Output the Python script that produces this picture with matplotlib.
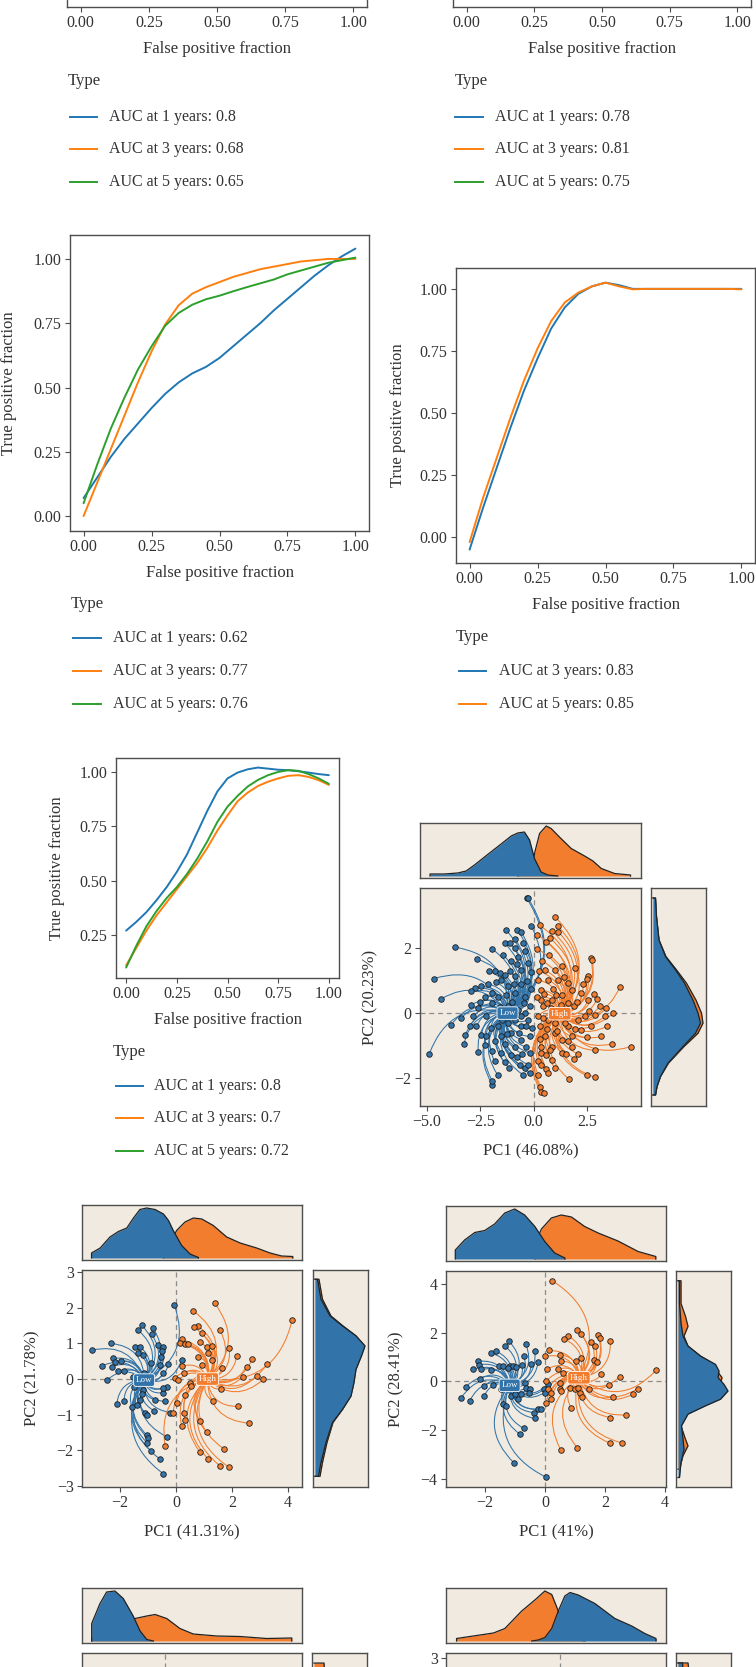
import numpy as np
import matplotlib
matplotlib.use("Agg")
import matplotlib.pyplot as plt
from matplotlib.lines import Line2D
from matplotlib.patches import FancyArrowPatch

plt.rcParams['font.family'] = ['Liberation Serif', 'DejaVu Serif']

# ---------------------------------------------------------------- data
roc_fpr = [0.0, 0.05, 0.1, 0.15, 0.2, 0.25, 0.3, 0.35, 0.4, 0.45, 0.5,
           0.55, 0.6, 0.65, 0.7, 0.75, 0.8, 0.85, 0.9, 0.95, 1.0]
roc_ticks = [0.0, 0.25, 0.5, 0.75, 1.0]
roc_ticklabels = ['0.00', '0.25', '0.50', '0.75', '1.00']

# panel C (middle left)
c_tpr_1y = [0.07, 0.15, 0.23, 0.30, 0.36, 0.42, 0.475, 0.52, 0.555, 0.58, 0.615,
            0.66, 0.705, 0.75, 0.80, 0.845, 0.89, 0.935, 0.975, 1.01, 1.04]
c_tpr_3y = [0.0, 0.13, 0.26, 0.39, 0.52, 0.64, 0.745, 0.82, 0.865, 0.89, 0.91,
            0.93, 0.945, 0.96, 0.97, 0.98, 0.99, 0.995, 1.0, 1.0, 1.0]
c_tpr_5y = [0.05, 0.20, 0.34, 0.46, 0.57, 0.66, 0.74, 0.79, 0.822, 0.843, 0.857,
            0.874, 0.89, 0.905, 0.92, 0.94, 0.955, 0.97, 0.985, 0.995, 1.005]
# panel D (middle right)
d_tpr_3y = [-0.05, 0.12, 0.28, 0.44, 0.59, 0.72, 0.84, 0.925, 0.98, 1.01, 1.025,
            1.015, 1.0, 1.0, 1.0, 1.0, 1.0, 1.0, 1.0, 1.0, 1.0]
d_tpr_5y = [-0.02, 0.16, 0.32, 0.48, 0.63, 0.76, 0.87, 0.945, 0.985, 1.01, 1.025,
            1.01, 0.998, 1.0, 1.0, 1.0, 1.0, 1.0, 1.0, 1.0, 0.998]
# panel E (lower left)
e_tpr_1y = [0.27, 0.31, 0.355, 0.41, 0.47, 0.54, 0.62, 0.72, 0.82, 0.91, 0.97,
            0.997, 1.012, 1.02, 1.015, 1.01, 1.008, 1.003, 0.997, 0.99, 0.985]
e_tpr_3y = [0.11, 0.19, 0.27, 0.34, 0.40, 0.46, 0.52, 0.58, 0.65, 0.73, 0.80,
            0.865, 0.905, 0.935, 0.955, 0.97, 0.982, 0.985, 0.977, 0.962, 0.94]
e_tpr_5y = [0.10, 0.20, 0.29, 0.36, 0.42, 0.47, 0.53, 0.60, 0.68, 0.77, 0.84,
            0.89, 0.933, 0.963, 0.985, 1.0, 1.008, 1.005, 0.99, 0.97, 0.945]

a_labels = ['AUC at 1 years: 0.8', 'AUC at 3 years: 0.68', 'AUC at 5 years: 0.65']
b_labels = ['AUC at 1 years: 0.78', 'AUC at 3 years: 0.81', 'AUC at 5 years: 0.75']
c_labels = ['AUC at 1 years: 0.62', 'AUC at 3 years: 0.77', 'AUC at 5 years: 0.76']
d_labels = ['AUC at 3 years: 0.83', 'AUC at 5 years: 0.85']
e_labels = ['AUC at 1 years: 0.8', 'AUC at 3 years: 0.7', 'AUC at 5 years: 0.72']

# PCA panel F (46.08%)
f_low = [(-0.34, 3.54), (-0.27, 3.54), (-1.31, 2.56), (-3.7, 2.03), (-2.64, 1.66), (-1.98, 1.98),
         (-4.69, 1.06), (-4.33, 0.44), (-4.89, -1.25), (-3.89, -0.38), (-3.27, -0.96), (-3.2, -0.67),
         (-1.95, -2.2), (-1.95, -2.08), (-1.7, -1.9), (-0.77, 2.56), (-0.5, 2.15), (-0.89, 2.28),
         (-0.11, 2.67), (-1.36, 2.15), (-1.13, 2.17), (-1.83, 1.28), (-1.59, 1.23), (-1.36, 1.18),
         (-2.77, 0.77), (-2.92, 0.67), (-2.45, 0.82), (-2.3, 0.51), (-1.98, 0.62), (-2.61, 0.15),
         (-2.92, 0.26), (-2.84, -0.1), (-3.39, -0.15), (-2.69, -0.41), (-2.45, -0.67), (-2.3, -0.97),
         (-1.98, -1.18), (-1.83, -1.49), (-1.36, -1.52), (-1.05, -1.28), (-0.66, -1.59), (-0.42, -1.69),
         (-0.27, -1.59), (-0.89, -1.03), (-0.58, -0.82), (-1.52, -0.72), (-1.67, -0.41), (-1.2, -0.31),
         (-0.89, -0.21), (-0.58, -0.41), (-0.27, -0.21), (-0.19, 0.21), (-0.42, 0.51), (-0.89, 0.62),
         (-1.2, 0.82), (-1.52, 1.03), (-0.89, 1.13), (-0.58, 1.33), (-0.27, 1.54), (-1.05, 1.59),
         (-0.73, 1.74), (-0.42, 1.9), (-1.44, 1.79), (-1.98, 0.31), (-2.22, -0.1), (-1.2, 0.21),
         (-0.73, 0.1), (-0.42, 0.0), (-1.05, -0.62), (-0.19, -0.72), (-0.19, -1.23), (-1.52, -1.23),
         (-2.22, -0.72), (-3.0, -0.41), (-0.6, 0.9), (-0.3, 1.0), (-1.0, 0.35), (-0.6, -0.1),
         (-0.1, -0.45), (-0.35, -1.05), (-1.35, -0.95), (-0.8, -1.35), (-0.15, 0.75), (-1.7, 0.5),
         (-1.5, -0.2), (-0.5, -1.9), (-0.2, -1.85), (-1.1, 1.3), (-0.15, 1.25), (-2.0, -0.45),
         (-2.6, -1.2), (-0.9, 2.0), (-0.6, 2.5), (-2.1, 1.3), (-1.75, 0.95), (-1.3, 0.55),
         (-0.45, 0.3), (-0.7, -0.6), (-1.25, -0.65), (-1.8, -0.85), (-0.95, 0.9), (-0.35, -0.4),
         (-1.6, 0.2), (-2.5, 0.35), (-0.8, 1.5), (-1.15, -1.7), (-0.55, -1.25), (-2.15, 0.9)]
f_high = [(0.98, 2.97), (0.28, 2.7), (1.14, 2.67), (1.14, 2.51), (0.83, 2.54), (0.17, 2.41),
          (0.75, 2.31), (0.59, 2.18), (0.17, 1.97), (2.67, 1.69), (2.73, 1.62), (1.95, 1.38),
          (2.55, 1.13), (2.47, 1.05), (4.03, 0.8), (2.98, 0.44), (3.09, 0.21), (3.38, 0.15),
          (3.72, 0.0), (2.86, -0.05), (2.39, -0.1), (4.55, -1.03), (3.67, -0.95), (2.86, -1.15),
          (2.05, -1.25), (2.47, -1.92), (2.86, -1.98), (1.64, -2.03), (0.28, -2.28), (0.33, -2.44),
          (0.48, -2.46), (0.59, -1.72), (0.67, -1.85), (0.2, -1.49), (0.36, -1.23), (0.83, -1.03),
          (1.3, -0.82), (1.77, -0.72), (2.23, -0.51), (2.7, -0.41), (3.17, -0.72), (1.61, -0.41),
          (0.98, -0.62), (0.52, -0.72), (0.28, -0.41), (0.2, -0.1), (0.44, 0.21), (0.83, 0.41),
          (1.3, 0.56), (1.77, 0.72), (2.23, 0.62), (2.55, 0.41), (1.89, 0.21), (1.45, 0.1),
          (0.36, 0.72), (0.67, 1.03), (0.98, 1.33), (1.3, 1.44), (0.52, 1.33), (0.2, 1.03),
          (1.14, 1.03), (1.61, 0.92), (0.36, 0.41), (2.08, -0.21), (1.45, -0.31), (0.98, -0.31),
          (0.67, -0.21), (1.77, -1.03), (1.3, -1.23), (0.83, -1.44), (0.36, -1.03), (3.41, -0.41),
          (3.33, -0.1), (0.5, 0.6), (0.8, 0.15), (1.1, -0.55), (0.6, -0.5), (0.3, -0.8),
          (1.5, -1.25), (0.9, 0.75), (1.6, 0.3), (2.0, 0.35), (0.15, 0.5), (0.55, -1.3),
          (2.5, -0.75), (2.3, 0.9), (0.4, 1.6), (1.0, -1.7), (0.2, -1.9), (1.9, -1.4), (2.8, 0.6),
          (0.7, 1.8), (1.25, 0.25), (0.45, -0.15), (1.95, -0.5), (0.75, -1.15), (1.4, 1.1),
          (0.25, 1.3), (2.6, 0.05), (1.05, 0.55), (0.6, 0.3), (1.6, -0.85), (0.35, -1.6)]
f_centers = [(-1.23, 0.0), (1.22, -0.02)]
f_top_low_x = [-4.86, -4.2, -3.56, -3.17, -2.78, -2.16, -1.53, -1.06, -0.75, -0.44, -0.2, 0.03, 0.34, 0.66, 1.12]
f_top_low_y = [0.04, 0.04, 0.06, 0.10, 0.22, 0.43, 0.64, 0.80, 0.86, 0.88, 0.72, 0.35, 0.08, 0.02, 0.0]
f_top_high_x = [-0.75, -0.12, 0.06, 0.27, 0.58, 0.81, 1.2, 1.75, 2.38, 2.77, 3.16, 3.78, 4.53]
f_top_high_y = [0.0, 0.10, 0.50, 0.85, 1.0, 0.95, 0.78, 0.55, 0.40, 0.30, 0.15, 0.05, 0.02]
f_right_low_y = [3.54, 2.97, 2.25, 1.74, 1.33, 0.92, 0.4, 0.0, -0.31, -0.62, -1.03, -1.54, -1.95, -2.26, -2.52]
f_right_low_w = [0.05, 0.07, 0.12, 0.25, 0.45, 0.63, 0.80, 0.90, 0.95, 0.85, 0.60, 0.30, 0.15, 0.08, 0.05]
f_right_high_y = f_right_low_y
f_right_high_w = [0.05, 0.07, 0.12, 0.26, 0.47, 0.67, 0.86, 0.97, 1.0, 0.90, 0.62, 0.31, 0.15, 0.08, 0.05]

# PCA panel G (41.31%)
g_low = [(-0.07, 2.09), (-3.01, 0.81), (-2.33, 1.0), (-2.65, 0.37), (-2.48, -0.04), (-2.24, 0.58),
         (-2.18, 0.49), (-1.98, 0.51), (-2.3, 0.35), (-2.06, 0.22), (-1.86, 0.22), (-2.12, -0.71),
         (-1.86, -0.62), (-1.58, -0.78), (-1.4, -0.73), (-1.35, 1.37), (-1.23, 1.51), (-0.81, 1.42),
         (-0.87, 1.26), (-1.46, 0.91), (-1.29, 0.91), (-1.17, 0.67), (-1.35, 0.72), (-0.63, 0.95),
         (-0.48, 0.91), (-0.51, 0.79), (-0.55, 0.63), (-0.89, 0.44), (-0.57, 0.39), (-0.27, 0.42),
         (-1.55, 0.07), (-1.14, 0.16), (-0.45, 0.18), (-0.33, -0.21), (-0.45, -0.38), (-0.48, -0.26),
         (-0.39, -0.63), (-0.75, -0.59), (-1.17, -0.31), (-1.23, -0.42), (-1.29, -0.59), (-1.11, -0.94),
         (-1.05, -1.01), (-0.77, -0.9), (-0.21, -0.94), (-1.05, -1.57), (-1.01, -1.66), (-0.9, -2.01),
         (-0.57, -2.25), (-0.45, -2.66), (-0.33, -1.62), (-1.02, -1.8), (0.2, 0.53), (-1.52, -0.21)]
g_high = [(1.39, 2.12), (0.62, 1.91), (4.15, 1.67), (0.8, 1.48), (0.64, 1.45), (1.57, 1.37),
          (0.92, 1.28), (0.2, 1.11), (0.14, 1.0), (0.32, 0.98), (0.44, 0.98), (0.86, 1.05),
          (1.1, 0.91), (1.3, 0.92), (1.9, 0.88), (2.17, 0.65), (2.73, 0.57), (3.24, 0.41),
          (2.52, 0.35), (1.15, 0.72), (1.27, 0.53), (0.8, 0.63), (0.92, 0.39), (1.63, 0.3),
          (0.2, 0.36), (0.3, 0.18), (2.38, 0.07), (2.88, 0.09), (3.12, -0.01), (-0.04, 0.04),
          (0.08, -0.03), (0.5, -0.1), (0.52, -0.2), (0.32, -0.45), (0.02, -0.68), (-0.1, -0.94),
          (0.29, -0.96), (0.32, -1.15), (0.2, -1.31), (1.33, -0.63), (1.6, -0.28), (2.2, -0.77),
          (2.61, -1.24), (0.86, -1.18), (1.1, -1.5), (-0.39, -1.87), (0.86, -2.06), (1.15, -2.25),
          (1.71, -1.96), (1.57, -2.44), (1.9, -2.48)]
g_centers = [(-1.14, -0.03), (1.12, 0.0)]
g_top_low_x = [-3.02, -2.71, -2.36, -2.06, -1.76, -1.52, -1.29, -1.05, -0.75, -0.45, -0.27, -0.1, 0.2, 0.5, 0.8]
g_top_low_y = [0.10, 0.20, 0.42, 0.53, 0.60, 0.80, 0.97, 1.0, 0.97, 0.88, 0.75, 0.55, 0.25, 0.08, 0.01]
g_top_high_x = [-0.45, -0.21, 0.02, 0.32, 0.62, 0.92, 1.33, 1.81, 2.29, 2.88, 3.36, 3.77, 4.17]
g_top_high_y = [0.05, 0.30, 0.55, 0.72, 0.80, 0.78, 0.65, 0.42, 0.30, 0.20, 0.10, 0.04, 0.03]
g_right_low_y = [2.8, 2.24, 1.77, 1.49, 1.21, 0.93, 0.65, 0.27, -0.1, -0.48, -0.85, -1.22, -1.78, -2.34, -2.73]
g_right_low_w = [0.05, 0.12, 0.30, 0.55, 0.82, 1.0, 0.93, 0.82, 0.78, 0.72, 0.55, 0.35, 0.22, 0.12, 0.07]
g_right_high_y = g_right_low_y
g_right_high_w = [0.08, 0.15, 0.32, 0.56, 0.82, 0.99, 0.92, 0.81, 0.77, 0.71, 0.55, 0.36, 0.24, 0.15, 0.10]

# PCA panel H (41%)
h_low = [(-1.2, 1.65), (-0.64, 1.54), (-0.34, 1.24), (-1.79, 1.17), (-1.62, 1.24), (-1.34, 1.47),
         (-0.7, 1.03), (-0.46, 0.72), (-0.23, 0.79), (-2.23, 0.83), (-2.21, 0.69), (-2.4, 0.49),
         (-2.12, 0.49), (-1.81, 0.46), (-1.54, 0.63), (-1.4, 0.63), (-1.16, 0.63), (-1.07, 0.65),
         (-0.96, 0.6), (-0.77, 0.67), (-1.23, 0.56), (-2.64, -0.22), (-2.79, -0.67), (-2.51, -0.8),
         (-2.03, -0.19), (-2.03, -0.6), (-1.73, -0.16), (-2.16, 0.11), (-1.46, -0.33), (-1.37, -0.12),
         (-0.68, -0.08), (-0.62, -0.26), (-0.51, -0.33), (-0.54, -0.49), (-0.9, -0.73), (-1.12, -0.6),
         (-1.01, -0.53), (-0.81, -0.53), (-1.4, -0.94), (-1.31, -1.01), (-0.38, -1.28), (-0.23, -1.14),
         (-0.14, -1.14), (-0.34, -1.52), (-0.71, -1.93), (-0.84, -2.16), (-1.03, -3.35), (0.04, -3.93),
         (-0.03, -0.33), (-0.01, -0.46), (0.1, -0.12)]
h_high = [(0.23, 4.14), (1.08, 2.12), (1.19, 1.95), (0.77, 1.88), (0.63, 1.76), (1.54, 1.61),
          (1.68, 1.47), (1.77, 1.89), (1.82, 1.78), (2.18, 1.67), (-0.01, 1.03), (0.12, 1.27),
          (0.49, 1.1), (0.54, 0.83), (1.04, 0.83), (1.21, 0.97), (1.63, 0.87), (1.72, 0.79),
          (0.08, 0.52), (0.43, 0.49), (0.6, 0.35), (1.88, 0.29), (2.49, 0.19), (3.69, 0.45),
          (3.1, -0.29), (2.93, -0.53), (2.27, -0.63), (2.13, -0.16), (0.04, 0.01), (0.1, -0.33),
          (0.19, -0.49), (0.04, -0.87), (0.21, -0.73), (0.49, -0.05), (0.49, -0.3), (0.54, -0.39),
          (0.82, -0.26), (0.99, -0.33), (1.1, -0.27), (1.18, -0.46), (1.23, -0.63), (1.46, -0.33),
          (0.86, -1.07), (2.18, -1.48), (2.71, -1.37), (1.08, -2.72), (0.52, -2.8), (2.16, -2.53),
          (2.58, -2.53)]
h_centers = [(-1.18, -0.16), (1.13, 0.15)]
h_top_low_x = [-2.99, -2.68, -2.34, -2.01, -1.68, -1.34, -1.01, -0.68, -0.34, -0.01, 0.32, 0.66]
h_top_low_y = [0.18, 0.38, 0.53, 0.57, 0.70, 0.92, 1.0, 0.88, 0.65, 0.35, 0.12, 0.02]
h_top_high_x = [-0.34, -0.12, 0.21, 0.54, 0.88, 1.32, 1.77, 2.43, 3.1, 3.69]
h_top_high_y = [0.30, 0.60, 0.82, 0.88, 0.84, 0.65, 0.52, 0.36, 0.15, 0.05]
h_right_low_y = [4.13, 3.2, 2.4, 1.86, 1.45, 1.04, 0.7, 0.43, 0.16, -0.12, -0.39, -0.73, -1.0,
                 -1.34, -1.82, -2.37, -2.78, -3.32, -3.94]
h_right_low_w = [0.03, 0.03, 0.06, 0.10, 0.20, 0.45, 0.75, 0.82, 0.80, 0.92, 1.0, 0.85, 0.55,
                 0.20, 0.07, 0.10, 0.12, 0.06, 0.03]
h_right_high_y = [4.13, 3.2, 2.67, 2.26, 1.86, 1.45, 1.04, 0.7, 0.43, 0.16, -0.12, -0.39, -0.73,
                  -1.0, -1.34, -1.82, -2.37, -2.64, -3.05, -3.6]
h_right_high_w = [0.06, 0.06, 0.15, 0.20, 0.12, 0.20, 0.45, 0.72, 0.78, 0.88, 0.85, 0.95, 0.80,
                  0.50, 0.18, 0.06, 0.15, 0.20, 0.10, 0.03]

# bottom PCA panels (only the top part is visible)
i_top_low_x = [-2.65, -2.35, -2.11, -1.81, -1.51, -1.15, -0.9, -0.66, -0.42]
i_top_low_y = [0.35, 0.75, 0.98, 1.0, 0.85, 0.50, 0.20, 0.03, 0.0]
i_top_high_x = [-2.65, -2.0, -1.5, -1.08, -0.66, -0.36, 0.06, 0.54, 1.02, 1.87, 2.71, 3.67, 4.58]
i_top_high_y = [0.05, 0.15, 0.30, 0.45, 0.50, 0.53, 0.45, 0.25, 0.14, 0.10, 0.09, 0.05, 0.06]
i_right_high_y = [2.54, 2.2, 1.8]
i_right_high_w = [0.20, 0.22, 0.25]
j_top_high_x = [-3.63, -2.34, -1.94, -1.35, -0.89, -0.54, -0.3, -0.07, 0.16, 0.51, 0.86]
j_top_high_y = [0.05, 0.16, 0.25, 0.60, 0.82, 1.0, 0.93, 0.60, 0.20, 0.04, 0.0]
j_top_low_x = [-1.0, -0.77, -0.54, -0.3, -0.07, 0.16, 0.34, 0.63, 1.21, 1.91, 2.5, 2.96, 3.35]
j_top_low_y = [0.0, 0.02, 0.07, 0.25, 0.60, 0.90, 0.97, 0.92, 0.75, 0.45, 0.30, 0.15, 0.05]
j_right_low_y = [2.84, 2.6, 2.3]
j_right_low_w = [0.09, 0.10, 0.12]
j_right_high_y = [2.84, 2.6, 2.3]
j_right_high_w = [0.20, 0.22, 0.25]

# ---------------------------------------------------------------- style
W, H = 756, 1667
C_BLUE, C_ORANGE, C_GREEN = '#1f77b4', '#ff7f0e', '#2ca02c'
P_BLUE, P_ORANGE = '#3274a9', '#f27d2e'
BG = '#f0eae0'
FRAME = '#4d4d4d'
TXT = '#333333'
FS = 11.5
FT = 12

fig = plt.figure(figsize=(W / 100, H / 100), dpi=100)


def axes_px(x0, y0, x1, y1):
    return fig.add_axes([x0 / W, 1 - y1 / H, (x1 - x0) / W, (y1 - y0) / H])


def ftext(x, y, s, **kw):
    kw.setdefault('color', TXT)
    kw.setdefault('fontsize', FT)
    fig.text(x / W, 1 - y / H, s, **kw)


def frame(ax, bg='white'):
    ax.set_facecolor(bg)
    for s in ax.spines.values():
        s.set_color(FRAME)
        s.set_linewidth(1.0)
    ax.tick_params(direction='out', length=3.5, width=0.8, color=FRAME,
                   labelcolor=TXT, labelsize=FS, pad=2.5)


def legend_px(xt, yt, labels, colors, xl0, xl1, xtx, ys):
    ftext(xt, yt, 'Type', ha='left', va='center', fontsize=FT)
    for lab, col, y in zip(labels, colors, ys):
        fig.add_artist(Line2D([xl0 / W, xl1 / W], [1 - y / H, 1 - y / H],
                              transform=fig.transFigure, color=col, lw=1.4))
        ftext(xtx, y, lab, ha='left', va='center', fontsize=FS)


def roc_panel(box, ylim, curves, colors, yticks=(), yticklabels=(), ylab_x=None):
    ax = axes_px(*box)
    frame(ax)
    for tpr, col in zip(curves, colors):
        ax.plot(roc_fpr, tpr, color=col, lw=1.4, solid_capstyle='round', solid_joinstyle='round')
    ax.set_xlim(-0.05, 1.05)
    ax.set_ylim(*ylim)
    ax.set_xticks(roc_ticks)
    ax.set_xticklabels(roc_ticklabels)
    ax.set_yticks(list(yticks))
    ax.set_yticklabels(list(yticklabels))
    x0, y0, x1, y1 = box
    ftext((x0 + x1) / 2, y1 + 42, 'False positive fraction', ha='center', va='center')
    if ylab_x is not None:
        ftext(ylab_x, (y0 + y1) / 2, 'True positive fraction', ha='center', va='center',
              rotation=90)
    return ax


def density_top(ax, xs_lo, ys_lo, xs_hi, ys_hi, cols):
    z = 1
    for xs, ys, col in ((xs_hi, ys_hi, cols[1]), (xs_lo, ys_lo, cols[0])):
        ax.fill_between(xs, 0, ys, color=col, lw=0, zorder=z)
        ax.plot([xs[0]] + list(xs) + [xs[-1]], [0] + list(ys) + [0], color='#222222',
                lw=0.9, zorder=z + 0.5)
        z += 1


def density_right(ax, ys_lo, ws_lo, ys_hi, ws_hi, cols):
    z = 1
    for ys, ws, col in ((ys_hi, ws_hi, cols[1]), (ys_lo, ws_lo, cols[0])):
        if not ys:
            continue
        ax.fill_betweenx(ys, 0, ws, color=col, lw=0, zorder=z)
        ax.plot([0] + list(ws) + [0], [ys[0]] + list(ys) + [ys[-1]], color='#222222',
                lw=0.9, zorder=z + 0.5)
        z += 1


def pca_panel(main, top, right, xlim, ylim, xticks, xticklabels, yticks, yticklabels,
              low, high, centers, dens_top, dens_right, cols=(P_BLUE, P_ORANGE),
              xlab=None, ylab=None):
    ax = axes_px(*main)
    frame(ax, BG)
    ax.axhline(0, color='#8c8c8c', ls=(0, (4, 3)), lw=0.9, zorder=1)
    ax.axvline(0, color='#8c8c8c', ls=(0, (4, 3)), lw=0.9, zorder=1)
    ax.set_xlim(*xlim)
    ax.set_ylim(*ylim)
    if centers:
        for pts, cen, col in ((low, centers[0], cols[0]), (high, centers[1], cols[1])):
            for (px, py) in pts:
                ax.add_patch(FancyArrowPatch((px, py), cen, arrowstyle='-',
                                             connectionstyle='arc3,rad=-0.45', color=col,
                                             lw=0.75, shrinkA=0, shrinkB=0, zorder=2))
    for pts, col in ((low, cols[0]), (high, cols[1])):
        if pts:
            xs, ys = zip(*pts)
            ax.scatter(xs, ys, s=16, c=col, edgecolors='#1c1c1c', linewidths=0.6, zorder=3)
    if centers:
        for (cx, cy), lab, col in zip(centers, ['Low', 'High'], cols):
            ax.text(cx, cy, lab, fontsize=6.5, color='white', ha='center', va='center', zorder=5,
                    bbox=dict(boxstyle='round,pad=0.25', fc=col, ec='white', lw=0.6))
    ax.set_xticks(xticks)
    ax.set_xticklabels(xticklabels)
    ax.set_yticks(yticks)
    ax.set_yticklabels(yticklabels)

    at = axes_px(*top)
    frame(at, BG)
    at.set_xlim(*xlim)
    at.set_ylim(-0.04, 1.06)
    at.set_xticks([])
    at.set_yticks([])
    density_top(at, *dens_top, cols)

    ar = axes_px(*right)
    frame(ar, BG)
    ar.set_ylim(*ylim)
    ar.set_xlim(-0.04, 1.06)
    ar.set_xticks([])
    ar.set_yticks([])
    density_right(ar, *dens_right, cols)

    x0, y0, x1, y1 = main
    if xlab:
        ftext((x0 + x1) / 2, y1 + 45, xlab, ha='center', va='center')
    if ylab:
        ftext(x0 - 50, (y0 + y1) / 2, ylab, ha='center', va='center', rotation=90)
    return ax


roc_cols3 = [C_BLUE, C_ORANGE, C_GREEN]

# ---------------------------------------------------------------- ROC panels
# top row: only the bottom of the frames is visible
roc_panel((67, -289, 367, 7), (-0.05, 1.05), [], [])
legend_px(68, 81, a_labels, roc_cols3, 70, 97, 109, [117, 149, 182])
roc_panel((453, -289, 751, 7), (-0.05, 1.05), [], [])
legend_px(455, 81, b_labels, roc_cols3, 455, 483, 495, [117, 149, 182])

roc_panel((70, 235, 369, 531), (-0.058, 1.093), [c_tpr_1y, c_tpr_3y, c_tpr_5y], roc_cols3,
          roc_ticks, roc_ticklabels, ylab_x=9)
legend_px(71, 604, c_labels, roc_cols3, 73, 101, 113, [638, 671, 704])

roc_panel((456, 268, 755, 563), (-0.104, 1.084), [d_tpr_3y, d_tpr_5y], [C_BLUE, C_ORANGE],
          roc_ticks, roc_ticklabels, ylab_x=398)
legend_px(456, 637, d_labels, [C_BLUE, C_ORANGE], 459, 486, 499, [671, 704])

roc_panel((116, 758, 339, 978), (0.052, 1.064), [e_tpr_1y, e_tpr_3y, e_tpr_5y], roc_cols3,
          [0.25, 0.5, 0.75, 1.0], ['0.25', '0.50', '0.75', '1.00'], ylab_x=57)
legend_px(113, 1052, e_labels, roc_cols3, 116, 143, 154, [1086, 1118, 1151])

# ---------------------------------------------------------------- PCA panels
pca_panel((420, 888, 641, 1106), (420, 823, 641, 878), (651, 888, 706, 1106),
          (-5.33, 5.02), (-2.86, 3.85),
          [-5.0, -2.5, 0.0, 2.5], ['\u22125.0', '\u22122.5', '0.0', '2.5'],
          [-2, 0, 2], ['\u22122', '0', '2'],
          f_low, f_high, f_centers,
          (f_top_low_x, f_top_low_y, f_top_high_x, f_top_high_y),
          (f_right_low_y, f_right_low_w, f_right_high_y, f_right_high_w),
          xlab='PC1 (46.08%)', ylab='PC2 (20.23%)')

pca_panel((82, 1270, 302, 1487), (82, 1205, 302, 1260), (313, 1270, 368, 1487),
          (-3.36, 4.5), (-3.03, 3.06),
          [-2, 0, 2, 4], ['\u22122', '0', '2', '4'],
          [-3, -2, -1, 0, 1, 2, 3], ['\u22123', '\u22122', '\u22121', '0', '1', '2', '3'],
          g_low, g_high, g_centers,
          (g_top_low_x, g_top_low_y, g_top_high_x, g_top_high_y),
          (g_right_low_y, g_right_low_w, g_right_high_y, g_right_high_w),
          xlab='PC1 (41.31%)', ylab='PC2 (21.78%)')

pca_panel((446, 1271, 666, 1487), (446, 1206, 666, 1261), (676, 1271, 731, 1487),
          (-3.3, 4.03), (-4.33, 4.53),
          [-2, 0, 2, 4], ['\u22122', '0', '2', '4'],
          [-4, -2, 0, 2, 4], ['\u22124', '\u22122', '0', '2', '4'],
          h_low, h_high, h_centers,
          (h_top_low_x, h_top_low_y, h_top_high_x, h_top_high_y),
          (h_right_low_y, h_right_low_w, h_right_high_y, h_right_high_w),
          xlab='PC1 (41%)', ylab='PC2 (28.41%)')

# bottom row: cut by the lower edge, only the first tick of the right panel shows
pca_panel((82, 1653, 302, 1870), (82, 1588, 302, 1643), (312, 1653, 367, 1870),
          (-3.0, 4.95), (-2.8, 2.8),
          [], [], [], [],
          [], [], None,
          (i_top_low_x, i_top_low_y, i_top_high_x, i_top_high_y),
          ([], [], i_right_high_y, i_right_high_w))

pca_panel((446, 1653, 666, 1870), (446, 1588, 666, 1643), (676, 1653, 731, 1870),
          (-4.0, 3.7), (-3.6, 3.15),
          [], [], [3], ['3'],
          [], [], None,
          (j_top_low_x, j_top_low_y, j_top_high_x, j_top_high_y),
          (j_right_low_y, j_right_low_w, j_right_high_y, j_right_high_w))

fig.savefig('out.png', dpi=100)
